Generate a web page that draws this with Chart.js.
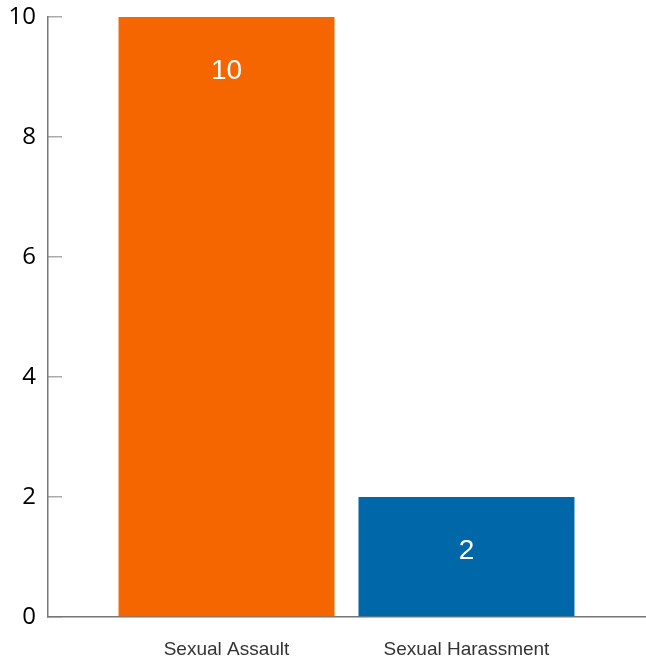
<!DOCTYPE html>
<html>
<head>
<meta charset="utf-8">
<script src="https://cdn.jsdelivr.net/npm/chart.js@4"></script>
<style>
  html, body { margin: 0; padding: 0; background: #fff; }
  #wrap { width: 646px; height: 660px; position: relative; }
</style>
</head>
<body>
<div id="wrap"><canvas id="chart"></canvas></div>
<script>
var categories = ['Sexual Assault', 'Sexual Harassment'];
var counts = [10, 2];
var barColors = ['#f66600', '#0068a8'];
var yTicks = [0, 2, 4, 6, 8, 10];

// draws the value inside each bar, near its top
var valueLabels = {
  id: 'valueLabels',
  afterDatasetsDraw: function(chart) {
    var ctx = chart.ctx;
    var meta = chart.getDatasetMeta(0);
    ctx.save();
    ctx.fillStyle = '#fff';
    ctx.font = '28px "Liberation Sans", Arial, sans-serif';
    ctx.textAlign = 'center';
    ctx.textBaseline = 'middle';
    meta.data.forEach(function(bar, i) {
      ctx.fillText(String(counts[i]), bar.x, bar.y + 54);
    });
    ctx.restore();
  }
};

document.addEventListener('DOMContentLoaded', function() {
  var ctx = document.getElementById('chart').getContext('2d');
  var chart = new Chart(ctx, {
    type: 'bar',
    data: {
      datasets: [{
        data: counts.map(function(v, i) { return { x: i, y: v }; }),
        backgroundColor: barColors,
        borderWidth: 0,
        categoryPercentage: 1,
        barPercentage: 0.9
      }]
    },
    options: {
      responsive: true,
      maintainAspectRatio: false,
      animation: false,
      layout: { padding: { top: 17, right: 1, left: 0, bottom: 0 } },
      plugins: { legend: { display: false }, tooltip: { enabled: false } },
      scales: {
        x: {
          type: 'linear',
          offset: false,
          min: -0.744,
          max: 1.744,
          afterFit: function(scale) {
            scale.height = 43;
            scale.paddingLeft = 0;
            scale.paddingRight = 0;
          },
          border: { display: true, color: '#777', width: 1.5 },
          grid: { display: true, drawOnChartArea: false, drawTicks: false, offset: false },
          ticks: {
            stepSize: 1,
            includeBounds: false,
            autoSkip: false,
            maxRotation: 0,
            padding: 21,
            color: '#333',
            font: { family: '"Liberation Sans", Arial, sans-serif', size: 19 },
            callback: function(value) {
              return Number.isInteger(value) && categories[value] ? categories[value] : '';
            }
          }
        },
        y: {
          min: 0,
          max: 10,
          afterFit: function(scale) {
            scale.width = 48;
            scale.paddingTop = 0;
            scale.paddingBottom = 0;
          },
          afterBuildTicks: function(scale) {
            scale.ticks = yTicks.map(function(v) { return { value: v }; });
          },
          border: { display: true, color: '#777', width: 1.5 },
          grid: { drawOnChartArea: false, tickLength: -14, color: '#aaa', lineWidth: 1.5 },
          ticks: {
            padding: 26,
            color: '#000',
            font: { family: '"Open Sans", "Liberation Sans", sans-serif', size: 24 }
          }
        }
      }
    },
    plugins: [valueLabels]
  });
});
</script>
</body>
</html>
